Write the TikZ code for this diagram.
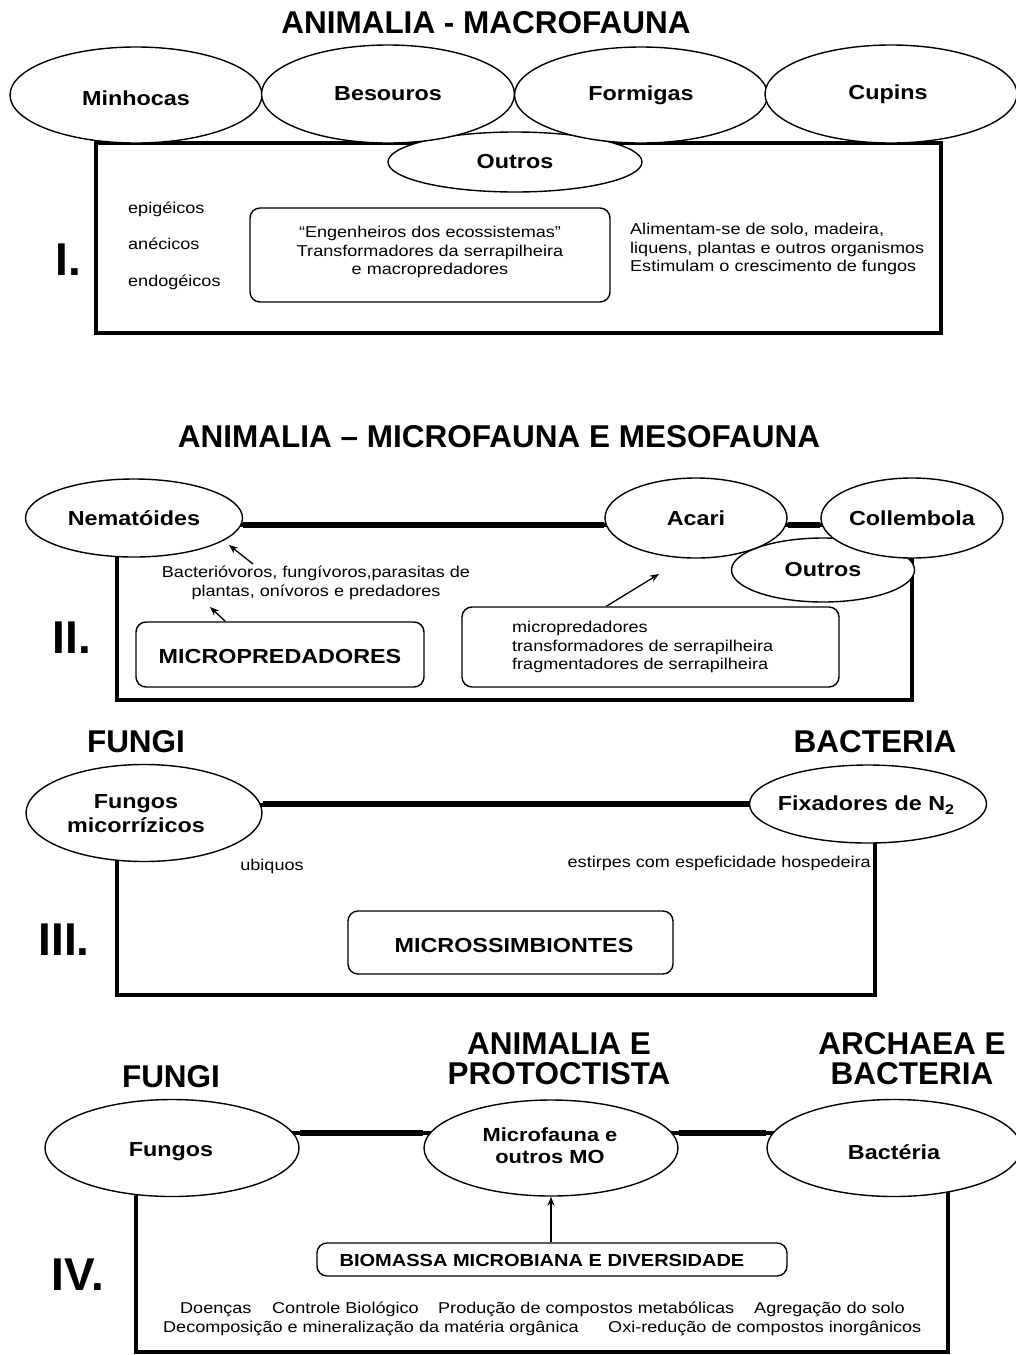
\documentclass[tikz,border=0pt]{standalone}
\usepackage{fontspec}
\setmainfont{Liberation Sans}[FakeStretch=1.15]
\newfontfamily\titlef{Liberation Sans}
\usetikzlibrary{shapes.geometric,arrows.meta,calc,backgrounds}
\newcommand\fbody{\fontsize{15.7}{18.5}\selectfont}
\newcommand\flab{\bfseries\fontsize{20.3}{24}\selectfont}
\newcommand\flabs{\bfseries\fontsize{19}{22}\selectfont}
\newcommand\fbio{\bfseries\fontsize{17.4}{20}\selectfont}
\newcommand\ftit{\titlef\bfseries\fontsize{31.5}{30}\selectfont}
\newcommand\fnum{\titlef\bfseries\fontsize{46}{46}\selectfont}
\begin{document}
\begin{tikzpicture}[x=1pt,y=-1pt,
  ell/.style={ellipse, draw, fill=white, line width=1.4pt, inner sep=0pt, font=\flab, align=center},
  frame/.style={line width=3.5pt},
  conn/.style={line width=5.5pt},
  rbox/.style={draw, rounded corners=10pt, line width=1.4pt, inner sep=0pt},
  arr/.style={line width=1.3pt, -{Stealth[length=9pt,width=7pt]}},
  txt/.style={font=\fbody, inner sep=0pt},
  lab/.style={font=\flab, inner sep=0pt, align=center},
  tit/.style={font=\ftit, inner sep=0pt, align=center},
  num/.style={font=\fnum, inner sep=0pt}]
\useasboundingbox (0,0) rectangle (1015,1355);

% ---------------- Section I ----------------
\node[tit] (t1) at (486,23) {ANIMALIA - MACROFAUNA};
\node[ell, minimum width=254pt, minimum height=60pt] (outros1) at (515,162) {Outros};
\node[ell, minimum width=252pt, minimum height=96pt] (minh) at (136,95) {};
\node[lab] (minhT) at (136,98) {Minhocas};
\node[ell, minimum width=253pt, minimum height=98pt] (beso) at (388,94) {Besouros};
\node[ell, minimum width=253pt, minimum height=96pt] (form) at (641,95) {Formigas};
\node[ell, minimum width=252pt, minimum height=98pt] (cupi) at (891,94) {};
\node[lab] (cupiT) at (888,94) {Cupins};
\node[num] (n1) at (68,260) {I.};
\node[txt, anchor=base west] (epi) at (128,213) {epigéicos};
\node[txt, anchor=base west] (ane) at (128,249) {anécicos};
\node[txt, anchor=base west] (endo) at (128,286) {endogéicos};
\node[rbox, minimum width=360pt, minimum height=94pt] (eng) at (430,255) {};
\node[txt, align=center] (engT) at (430,252) {“Engenheiros dos ecossistemas”\\Transformadores da serrapilheira\\e macropredadores};
\node[txt, align=left, anchor=west] (alim) at (630,249) {Alimentam-se de solo, madeira,\\liquens, plantas e outros organismos\\Estimulam o crescimento de fungos};

% ---------------- Section II ----------------
\node[tit] (t2) at (499,437) {ANIMALIA – MICROFAUNA E MESOFAUNA};
\node[ell, minimum width=183pt, minimum height=64pt] (outros2) at (823,570) {Outros};
\node[ell, minimum width=217pt, minimum height=78pt] (nem) at (134,518) {Nematóides};
\node[ell, minimum width=182pt, minimum height=80pt] (acari) at (696,518) {Acari};
\node[ell, minimum width=182pt, minimum height=80pt] (coll) at (912,518) {Collembola};
\node[txt, align=center] (bact) at (316,583) {Bacterióvoros, fungívoros,parasitas de\\plantas, onívoros e predadores};
\node[rbox, minimum width=288pt, minimum height=65pt] (micro) at (280,654.5) {};
\node[lab] (microT) at (280,657) {MICROPREDADORES};
\node[rbox, minimum width=377pt, minimum height=80pt] (rb2) at (650.5,647) {};
\node[txt, align=left, anchor=west] (rb2T) at (512,647) {micropredadores\\transformadores de serrapilheira\\fragmentadores de serrapilheira};
\coordinate (a1t) at (253,564);
\coordinate (a1h) at (229,545);
\draw[arr] (a1t) -- (a1h);
\coordinate (a2h) at (210,607);
\draw[arr] ([xshift=90pt]micro.north west) -- (a2h);
\coordinate (a3h) at (659,574);
\draw[arr] ([xshift=145pt]rb2.north west) -- (a3h);
\node[num] (n2) at (72,638) {II.};

% ---------------- Section III ----------------
\node[tit] (fungi3) at (136,742) {FUNGI};
\node[tit] (bacteria3) at (875,742) {BACTERIA};
\node[ell, minimum width=236pt, minimum height=97pt] (fung) at (144,813) {};
\node[ell, minimum width=237pt, minimum height=78pt] (fix) at (868,804) {};
\node[lab] (fungT) at (136,814) {Fungos\\micorrízicos};
\node[lab] (fixT) at (866,805) {Fixadores de N{\fontsize{14}{14}\selectfont\raisebox{-4pt}{2}}};
\node[txt] (ubi) at (272,866) {ubiquos};
\node[txt, anchor=east] (estir) at (871,863) {estirpes com espeficidade hospedeira};
\node[rbox, minimum width=325pt, minimum height=63pt] (simb) at (510.5,942.5) {};
\node[lab] (simbT) at (514,945) {MICROSSIMBIONTES};
\node[num] (n3) at (64,940) {III.};

% ---------------- Section IV ----------------
\node[tit] (fungi4) at (171,1077) {FUNGI};
\node[tit] (anim4) at (559,1059) {ANIMALIA E\\PROTOCTISTA};
\node[tit] (arch4) at (912,1059) {ARCHAEA E\\BACTERIA};
\node[ell, minimum width=254pt, minimum height=97pt] (f4) at (172,1148) {};
\node[ell, minimum width=254pt, minimum height=96pt] (m4) at (551,1148) {};
\node[ell, minimum width=254pt, minimum height=97pt] (b4) at (894,1148) {};
\node[lab] (f4T) at (171,1152) {Fungos};
\node[lab, font=\flabs] (m4T) at (550,1146) {Microfauna e\\outros MO};
\node[lab] (b4T) at (894,1152) {Bactéria};
\node[rbox, minimum width=470pt, minimum height=33pt] (bio) at (552,1259.5) {};
\node[inner sep=0pt, font=\fbio] (bioT) at (542,1260) {BIOMASSA MICROBIANA E DIVERSIDADE};
\draw[arr] (m4.south |- bio.north) -- (m4.south);
\node[txt, anchor=base west] (d1) at (180,1313) {Doenças};
\node[txt, anchor=base west] (d2) at (272,1313) {Controle Biológico};
\node[txt, anchor=base west] (d3) at (438,1313) {Produção de compostos metabólicas};
\node[txt, anchor=base west] (d4) at (754,1313) {Agregação do solo};
\node[txt, anchor=base west] (d5) at (163,1332) {Decomposição e mineralização da matéria orgânica};
\node[txt, anchor=base west] (d6) at (608,1332) {Oxi-redução de compostos inorgânicos};
\node[num] (n4) at (78,1275) {IV.};

% ---------------- frames and connectors (behind the ellipses) ----------------
\begin{pgfonlayer}{background}
\fill[white] (0,0) rectangle (1015,1355);
\draw[frame] (96,143) rectangle (941,333);
\draw[frame] (117,525) rectangle (912,700);
\draw[conn] ([yshift=-7pt]nem.east) -- ([yshift=-7pt]acari.west);
\draw[conn] ([yshift=-7pt]acari.east) -- ([yshift=-7pt]coll.west);
\draw[frame] (117,805) rectangle (875,995);
\draw[conn] (fung.east |- fix.west) -- (fix.west);
\draw[frame] (136,1133) rectangle (948,1352);
\draw[conn] ([yshift=15pt]f4.east) -- ([yshift=15pt]m4.west);
\draw[conn] ([yshift=15pt]m4.east) -- ([yshift=15pt]b4.west);
\end{pgfonlayer}
\end{tikzpicture}
\end{document}
